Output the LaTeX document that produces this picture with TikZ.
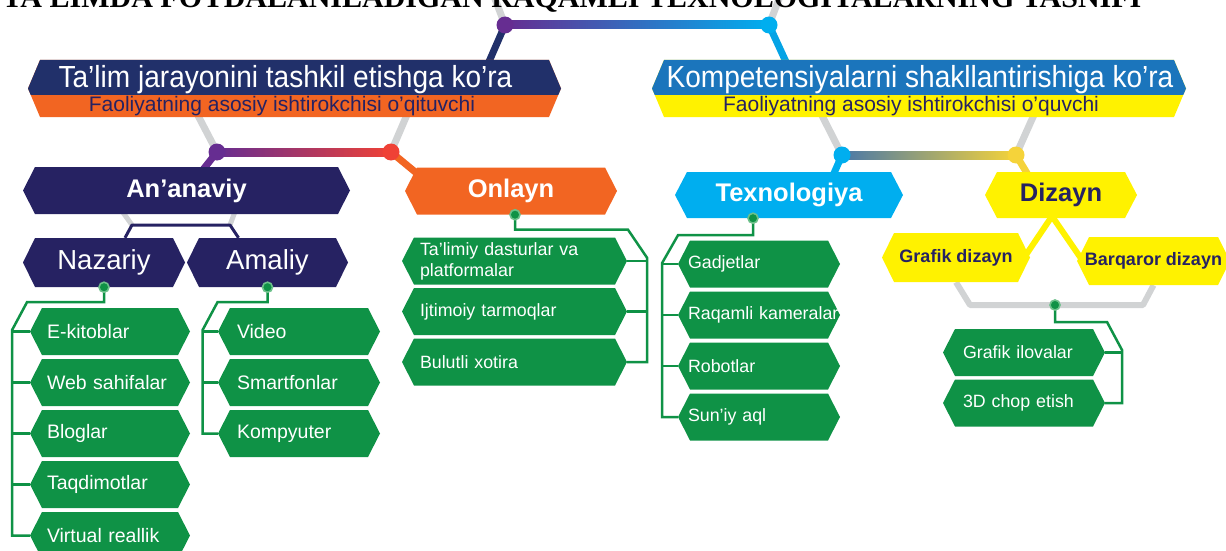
\documentclass[tikz,border=0pt]{standalone}
\usepackage{fontspec}
\setmainfont{Liberation Sans}
\newfontfamily\headfont[FakeStretch=0.92]{Liberation Sans}
\newfontfamily\titlefont{Liberation Serif}
\usetikzlibrary{calc,backgrounds}
\definecolor{navy}{HTML}{262262}
\definecolor{headnavy}{HTML}{21306A}
\definecolor{orangec}{HTML}{F26522}
\definecolor{blueh}{HTML}{1B75BC}
\definecolor{cyanc}{HTML}{00AEEF}
\definecolor{yell}{HTML}{FFF200}
\definecolor{leaf}{HTML}{0F9246}
\definecolor{leaflight}{HTML}{6CC08A}
\definecolor{railgray}{HTML}{D1D3D4}
\definecolor{plum}{HTML}{662D91}
\definecolor{redc}{HTML}{EF4136}
\definecolor{goldc}{HTML}{F5D33A}
\definecolor{slate}{HTML}{4A78A8}

\newcommand\hextip{12pt}
\newcommand\hexfill[1]{\fill[#1] (path picture bounding box.west)
  -- ([xshift=\hextip]path picture bounding box.north west)
  -- ([xshift=-\hextip]path picture bounding box.north east)
  -- (path picture bounding box.east)
  -- ([xshift=-\hextip]path picture bounding box.south east)
  -- ([xshift=\hextip]path picture bounding box.south west) -- cycle;}

\tikzset{
  hexbox/.style={rectangle, inner sep=0pt, path picture={\hexfill{#1}}},
  bandbox/.style 2 args={rectangle, inner sep=0pt, minimum height=57pt,
    path picture={\hexfill{#2}
      \clip ([yshift=23pt]path picture bounding box.south west) rectangle (path picture bounding box.north east);
      \hexfill{#1}}},
  bigbox/.style={hexbox=#1, minimum height=47pt, font=\fontsize{25.5}{30}\selectfont\bfseries, text=white},
  subbox/.style={hexbox=#1, minimum height=49pt, font=\fontsize{27.5}{32}\selectfont, text=white},
  yelbox/.style={hexbox=yell, minimum height=49pt, font=\fontsize{18}{22}\selectfont\bfseries, text=navy},
  leafbox/.style={hexbox=leaf, minimum height=47pt, text=white, align=left},
  headtxt/.style={font=\headfont\fontsize{30.5}{34}\selectfont, text=white, anchor=base},
  subtxt/.style={font=\fontsize{21}{24}\selectfont, text=navy, anchor=base},
  dot/.style={circle, inner sep=0pt, minimum size=17pt, fill=#1},
  gdot/.style={circle, inner sep=0pt, minimum size=10pt, fill=leaf, draw=leaflight, line width=1.6pt},
  rail/.style={railgray, line width=7pt},
  link/.style={line width=7pt},
  gline/.style={leaf, line width=2.5pt},
}

\begin{document}
\begin{tikzpicture}[x=1pt, y=-1pt, line cap=butt]
  \useasboundingbox (0,0) rectangle (1226,551);
  % title, cut by the page edge
  \node[font=\titlefont\bfseries\fontsize{30}{34}\selectfont, anchor=base east] (ttl) at (1145,8)
    {TA’LIMDA FOYDALANILADIGAN RAQAMLI TEXNOLOGIYALARNING TASNIFI};
  % headers
  \node[bandbox={headnavy}{orangec}, minimum width=533pt] (lhd) at (294.5,88.5) {};
  \node[bandbox={blueh}{yell}, minimum width=534pt] (rhd) at (919,88.5) {};
  \node[headtxt] (lht) at (285.5,87) {Ta’lim jarayonini tashkil etishga ko’ra};
  \node[subtxt] (lst) at (282,111) {Faoliyatning asosiy ishtirokchisi o’qituvchi};
  \node[headtxt] (rht) at (920,87) {Kompetensiyalarni shakllantirishiga ko’ra};
  \node[subtxt] (rst) at (911,111) {Faoliyatning asosiy ishtirokchisi o’quvchi};
  % junction dots
  \node[dot=plum] (tl) at (505,25) {};
  \node[dot=cyanc] (tr) at (769,25) {};
  \node[dot=plum] (ld1) at (217,152) {};
  \node[dot=redc] (ld2) at (391,152) {};
  \node[dot=cyanc] (rd1) at (842,155) {};
  \node[dot=goldc] (rd2) at (1016,155) {};
  % second level
  \node[bigbox=navy, minimum width=327pt] (anv) at (186.5,190.5) {An’anaviy};
  \node[bigbox=orangec, minimum width=212pt] (onl) at (511,191) {Onlayn};
  \node[bigbox=cyanc, minimum width=228pt, minimum height=46pt] (txn) at (789,195) {Texnologiya};
  \node[bigbox=yell, minimum width=152pt, minimum height=46pt, text=navy] (diz) at (1061,195) {Dizayn};
  \node[subbox=navy, minimum width=162pt] (nz) at (104,262.5) {Nazariy};
  \node[subbox=navy, minimum width=161pt] (am) at (267.5,262.5) {Amaliy};
  \node[yelbox, minimum width=148pt] (grd) at (956,257.5) {Grafik dizayn};
  \node[yelbox, minimum width=153pt, minimum height=48pt] (bqd) at (1153.5,261) {Barqaror dizayn};
  % green lists
  \foreach \s [count=\i] in {E-kitoblar, Web sahifalar, Bloglar, Taqdimotlar, Virtual reallik}
    \node[leafbox, minimum width=160pt, text width=126pt, inner xsep=17pt, font=\fontsize{19.5}{23}\selectfont] (nz\i) at (110,280.5+51*\i) {\s};
  \foreach \s [count=\i] in {Video, Smartfonlar, Kompyuter}
    \node[leafbox, minimum width=162pt, text width=124pt, inner xsep=19pt, font=\fontsize{19.5}{23}\selectfont] (am\i) at (299,280.5+51*\i) {\s};
  \foreach \s [count=\i] in {{Ta’limiy dasturlar va\\platformalar}, Ijtimoiy tarmoqlar, Bulutli xotira}
    \node[leafbox, minimum width=225pt, text width=189pt, inner xsep=18pt, font=\fontsize{17.8}{21}\selectfont] (on\i) at (514.5,210.5+50.5*\i) {\s};
  \foreach \s [count=\i] in {Gadjetlar, Raqamli kameralar, Robotlar, Sun’iy aql}
    \node[leafbox, minimum width=162pt, text width=142pt, inner xsep=10pt, font=\fontsize{17.8}{21}\selectfont] (tx\i) at (759,213+51*\i) {\mbox{\s}};
  \foreach \s [count=\i] in {Grafik ilovalar, 3D chop etish}
    \node[leafbox, minimum width=162pt, text width=122pt, inner xsep=20pt, font=\fontsize{17.8}{21}\selectfont] (dz\i) at (1024,302+50.5*\i) {\s};
  % green dots
  \node[gdot] (nzd) at (nz.south) {};
  \node[gdot] (amd) at (am.south) {};
  \node[gdot] (ond) at ([xshift=4pt]onl.south) {};
  \node[gdot] (txd) at ([xshift=-36pt]txn.south) {};
  \coordinate (dzl) at (970,305); \coordinate (dzr) at (1143,305);
  \node[gdot] (dzd) at (1055,305) {};
  \coordinate (nbl) at (132,225); \coordinate (nbr) at (230,225);

  \begin{pgfonlayer}{background}
    % grey rails
    \draw[rail] (tl.center) -- ++(-10,-26);
    \draw[rail] (tr.center) -- ++(10,-26);
    \draw[rail] (ld1.center) -- ($(lhd.south west)+(170,-2)$);
    \draw[rail] (ld2.center) -- ($(lhd.south west)+(379,-2)$);
    \draw[rail] (rd1.center) -- ($(rhd.south west)+(170,-2)$);
    \draw[rail] (rd2.center) -- ($(rhd.south west)+(382,-2)$);
    \draw[rail, line width=5pt] ($(anv.south west)+(100,-2)$) -- (nbl);
    \draw[rail, line width=5pt] ($(anv.south west)+(212,-2)$) -- (nbr);
    \draw[rail, line width=6pt, line join=round] (grd.south) -- (dzl) -- (dzr) -- (bqd.south);
    % coloured links
    \draw[link, headnavy] (tl.center) -- ($(lhd.north east)+(-74,6)$);
    \draw[link, cyanc!80!blueh] (tr.center) -- ($(rhd.north west)+(136,6)$);
    \draw[link, plum] (ld1.center) -- ($(anv.north)+(14,6)$);
    \draw[link, orangec] (ld2.center) -- ($(onl.north west)+(12,6)$);
    \draw[link, cyanc] (rd1.center) -- ($(txn.north)+(43,6)$);
    \draw[link, goldc] (rd2.center) -- ($(diz.north west)+(45,6)$);
    % gradient bars
    \shade[left color=plum, right color=cyanc] ($(tl.center)+(0,-4)$) rectangle ($(tr.center)+(0,4)$);
    \shade[left color=plum, right color=redc] ($(ld1.center)+(0,-4)$) rectangle ($(ld2.center)+(0,4)$);
    \shade[left color=slate, right color=goldc] ($(rd1.center)+(0,-4)$) rectangle ($(rd2.center)+(0,4)$);
    % navy bracket and yellow fork
    \draw[navy, line width=3pt, line join=round] ($(nz.north)+(21,0)$) -- (nbl) -- (nbr) -- ($(am.north)+(-29,0)$);
    \draw[yell, line width=6pt] ($(grd.east)+(-6,0)$) -- ($(diz.south)+(-9,-2)$) -- ($(bqd.west)+(6,0)$);
    % green trees
    \draw[gline] (nzd.center) -- ++(0,15) -- ++(-77,0) -- ++(-15,28) |- (nz5.west);
    \foreach \i in {1,...,4} \draw[gline] (nz\i.west) -- ++(-18,0);
    \draw[gline] (amd.center) -- ++(0,15) -- ++(-50,0) -- ++(-15,28) |- (am3.west);
    \foreach \i in {1,2} \draw[gline] (am\i.west) -- ++(-16,0);
    \draw[gline] (ond.center) -- ++(0,15) -- ++(113,0) -- ++(19,28) |- (on3.east);
    \foreach \i in {1,2} \draw[gline] (on\i.east) -- ++(20,0);
    \draw[gline] (txd.center) -- ++(0,17) -- ++(-75,0) -- ++(-16,28) |- (tx4.west);
    \foreach \i in {1,2,3} \draw[gline] (tx\i.west) -- ++(-16,0);
    \draw[gline] (dzd.center) -- ++(0,17) -- ++(52,0) -- ++(15,28) |- (dz2.east);
    \draw[gline] (dz1.east) -- ++(17,0);
  \end{pgfonlayer}
\end{tikzpicture}
\end{document}
